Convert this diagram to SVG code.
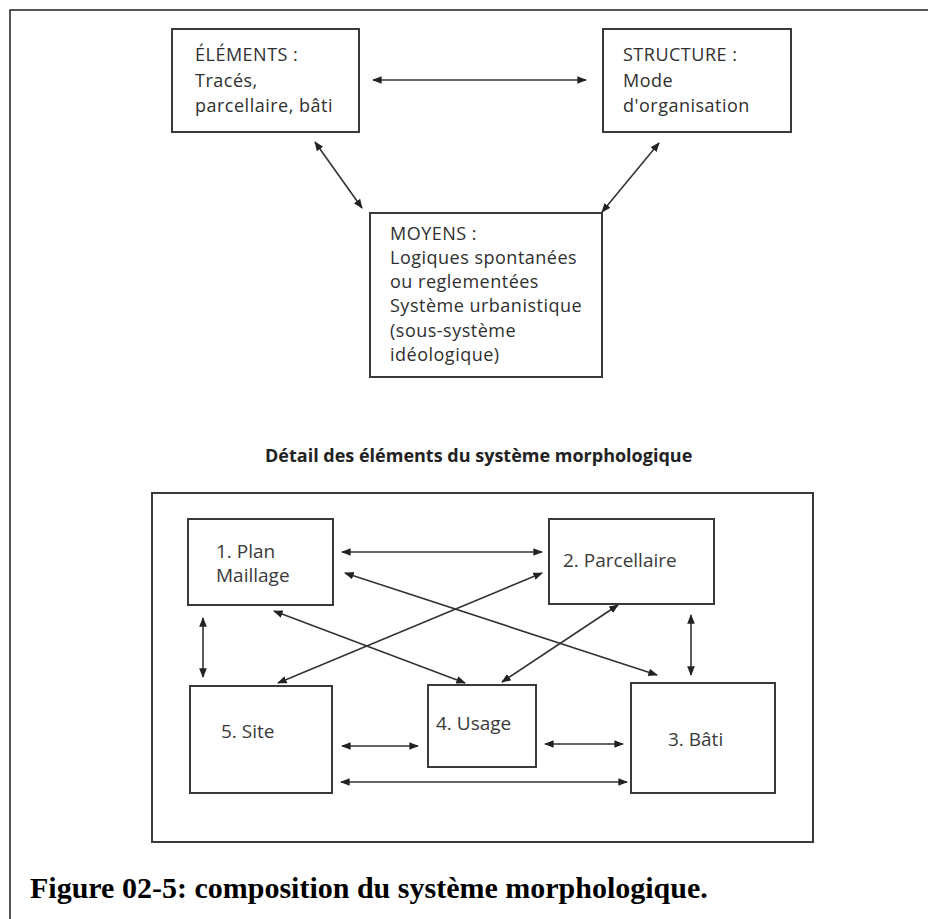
<svg xmlns="http://www.w3.org/2000/svg" width="928" height="919" viewBox="0 0 928 919">
<style>
.box{fill:none;stroke:#3a3a3a;stroke-width:2}
.t{font-family:"Open Sans","Liberation Sans",sans-serif;font-size:18px;letter-spacing:0.5px;fill:#2f2f2f}
.t2{font-family:"Open Sans","Liberation Sans",sans-serif;font-size:19px;fill:#3a3a3a}
.c{fill:none;stroke:#333;stroke-width:1.6;marker-start:url(#ah);marker-end:url(#ah)}
</style>
<defs>
<marker id="ah" viewBox="0 0 10 10" refX="9" refY="5" markerWidth="6" markerHeight="6" orient="auto-start-reverse" markerUnits="strokeWidth">
<path d="M0,1 L10,5 L0,9 z" fill="#222"/>
</marker>
</defs>
<rect width="928" height="919" fill="#fff"/>
<path d="M10,919 V10 H928" fill="none" stroke="#222" stroke-width="1.5"/>

<g id="elements">
<rect class="box" x="172" y="29" width="187" height="103"/>
<text class="t" x="195" y="61">ÉLÉMENTS :</text>
<text class="t" x="195" y="87">Tracés,</text>
<text class="t" x="195" y="112">parcellaire, bâti</text>
</g>
<g id="structure">
<rect class="box" x="603" y="29" width="188" height="103"/>
<text class="t" x="623" y="61">STRUCTURE :</text>
<text class="t" x="623" y="87">Mode</text>
<text class="t" x="623" y="112">d'organisation</text>
</g>
<g id="moyens">
<rect class="box" x="370" y="213" width="232" height="164"/>
<text class="t" x="390" y="240">MOYENS :</text>
<text class="t" x="390" y="264">Logiques spontanées</text>
<text class="t" x="390" y="288">ou reglementées</text>
<text class="t" x="390" y="312">Système urbanistique</text>
<text class="t" x="390" y="337">(sous-système</text>
<text class="t" x="390" y="361">idéologique)</text>
</g>

<g id="title">
<text x="265" y="462" font-family="'Open Sans','Liberation Sans',sans-serif" font-size="18" font-weight="bold" fill="#222">Détail des éléments du système morphologique</text>
</g>

<g id="detail-frame">
<rect class="box" x="152" y="493" width="661" height="349" stroke-width="1.8"/>
</g>
<g id="plan">
<rect class="box" x="188" y="519" width="145" height="86"/>
<text class="t2" x="216" y="558">1. Plan</text>
<text class="t2" x="216" y="582">Maillage</text>
</g>
<g id="parcellaire">
<rect class="box" x="549" y="519" width="165" height="85"/>
<text class="t2" x="563" y="567">2. Parcellaire</text>
</g>
<g id="site">
<rect class="box" x="190" y="686" width="142" height="107"/>
<text class="t2" x="221" y="738">5. Site</text>
</g>
<g id="usage">
<rect class="box" x="428" y="685" width="108" height="82"/>
<text class="t2" x="436" y="730">4. Usage</text>
</g>
<g id="bati">
<rect class="box" x="631" y="683" width="144" height="110"/>
<text class="t2" x="668" y="746">3. Bâti</text>
</g>

<g id="connectors">
<line class="c" x1="373" y1="80" x2="586" y2="80"/>
<line class="c" x1="315" y1="142" x2="362" y2="208"/>
<line class="c" x1="659" y1="143" x2="602" y2="212"/>
<line class="c" x1="342" y1="552" x2="542" y2="552"/>
<line class="c" x1="345" y1="573" x2="657" y2="675"/>
<line class="c" x1="278" y1="683" x2="542" y2="573"/>
<line class="c" x1="274" y1="611" x2="465" y2="683"/>
<line class="c" x1="502" y1="682" x2="618" y2="605"/>
<line class="c" x1="203" y1="618" x2="203" y2="677"/>
<line class="c" x1="691" y1="615" x2="691" y2="675"/>
<line class="c" x1="342" y1="746" x2="418" y2="746"/>
<line class="c" x1="545" y1="744" x2="623" y2="744"/>
<line class="c" x1="341" y1="782" x2="627" y2="782"/>
</g>

<g id="caption">
<text x="30" y="898" font-family="'Liberation Serif','Times New Roman',serif" font-size="30" font-weight="bold" fill="#000">Figure 02-5: composition du système morphologique.</text>
</g>
</svg>
